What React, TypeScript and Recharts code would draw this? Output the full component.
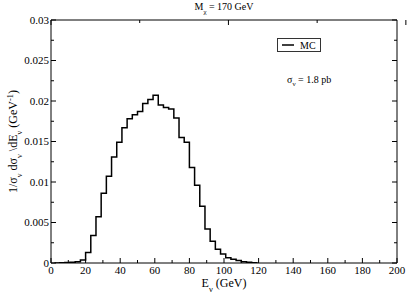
import { LineChart, Line, XAxis, YAxis, Label, Legend } from 'recharts'

// histogram bin left edges (GeV), 3 GeV wide bins
const binEdges = [
  2, 5, 8, 11, 14, 17, 20, 23, 26, 29, 32, 35, 38, 41, 44, 47, 50, 53, 56, 59,
  62, 65, 68, 71, 74, 77, 80, 83, 86, 89, 92, 95, 98, 101, 104, 107, 110, 113, 116, 119,
]
// normalised distribution per bin (last edge closes the histogram)
const binValues = [
  0, 0.00002, 0.00005, 0.0001, 0.00015, 0.00037, 0.0013, 0.0034, 0.0057, 0.0086,
  0.0107, 0.0131, 0.0149, 0.0167, 0.0178, 0.0183, 0.0187, 0.0197, 0.0202, 0.0207,
  0.0195, 0.0192, 0.019, 0.0179, 0.0155, 0.0149, 0.0118, 0.0096, 0.007, 0.0042,
  0.0027, 0.0017, 0.0011, 0.00066, 0.00045, 0.0003, 0.00015, 0.00008, 0.00003, 0,
]

const xTicks = [0, 10, 20, 30, 40, 50, 60, 70, 80, 90, 100, 110, 120, 130, 140, 150, 160, 170, 180, 190, 200]
const yTicks = [0, 0.0025, 0.005, 0.0075, 0.01, 0.0125, 0.015, 0.0175, 0.02, 0.0225, 0.025, 0.0275, 0.03]

const data = binEdges.map((e, i) => ({ e, v: binValues[i] }))

const FONT = '"Liberation Serif", "Times New Roman", serif'
const MAJOR = 5
const MINOR = 3

const isMajorX = (v: number) => Math.round(v / 10) % 2 === 0
const isMajorY = (v: number) => Math.round(v / 0.0025) % 2 === 0

function BottomTick({ x, y, payload }: any) {
  const major = isMajorX(payload.value)
  return (
    <g>
      <line x1={x} x2={x} y1={y} y2={y - (major ? MAJOR : MINOR)} stroke="#000" />
      {major && (
        <text x={x} y={y + 10.5} textAnchor="middle" fontSize={11} style={{ fontFamily: FONT }} fill="#000">
          {payload.value}
        </text>
      )}
    </g>
  )
}

function TopTick({ x, y, payload }: any) {
  const major = isMajorX(payload.value)
  return <line x1={x} x2={x} y1={y} y2={y + (major ? MAJOR : MINOR)} stroke="#000" />
}

function LeftTick({ x, y, payload }: any) {
  const major = isMajorY(payload.value)
  return (
    <g>
      <line x1={x} x2={x + (major ? MAJOR : MINOR)} y1={y} y2={y} stroke="#000" />
      {major && (
        <text x={x - 2} y={y} dy="0.35em" textAnchor="end" fontSize={11} style={{ fontFamily: FONT }} fill="#000">
          {String(payload.value)}
        </text>
      )}
    </g>
  )
}

function RightTick({ x, y, payload }: any) {
  const major = isMajorY(payload.value)
  return <line x1={x} x2={x - (major ? MAJOR : MINOR)} y1={y} y2={y} stroke="#000" />
}

const sub = { baselineShift: 'sub', fontSize: '70%' } as any

function LegendBox({ payload }: any) {
  const name = payload && payload.length ? payload[0].value : 'MC'
  return (
    <div style={{ position: 'relative', fontFamily: FONT, fontSize: 10, color: '#000' }}>
      <div
        style={{
          border: '1px solid #333',
          width: 42,
          height: 12,
          display: 'flex',
          alignItems: 'center',
          background: '#fff',
        }}
      >
        <svg width={22} height={12}>
          <line x1={4} x2={16} y1={6} y2={6} stroke="#000" strokeWidth={1.5} />
        </svg>
        <span>{name}</span>
      </div>
      <div style={{ position: 'absolute', left: 10, top: 36, whiteSpace: 'nowrap', lineHeight: '12px' }}>
        σ<sub style={{ fontSize: 7 }}>ν</sub> = 1.8 pb
      </div>
    </div>
  )
}

export default function App() {
  return (
    <div style={{ position: 'absolute', left: 0, top: 0, width: 407, height: 292, background: '#fff' }}>
      <LineChart width={407} height={292} data={data} margin={{ top: 0, right: 0, bottom: 0, left: 0 }}>
        <XAxis
          dataKey="e"
          type="number"
          domain={[0, 200]}
          ticks={xTicks}
          interval={0}
          allowDataOverflow
          height={29}
          tickSize={0}
          tickMargin={0}
          tick={(p: any) => <BottomTick {...p} />}
          axisLine={{ stroke: '#000' }}
        >
          <Label
            content={({ viewBox }: any) => {
              const cx = viewBox ? viewBox.x + viewBox.width / 2 : 224
              return (
                <text x={cx} y={287} textAnchor="middle" fontSize={12} style={{ fontFamily: FONT }} fill="#000">
                  E<tspan {...sub}>ν</tspan> (GeV)
                </text>
              )
            }}
          />
        </XAxis>
        <XAxis
          xAxisId="top"
          orientation="top"
          type="number"
          domain={[0, 200]}
          ticks={xTicks}
          interval={0}
          allowDataOverflow
          height={20}
          tickSize={0}
          tickMargin={0}
          tick={(p: any) => <TopTick {...p} />}
          axisLine={{ stroke: '#000' }}
        >
          <Label
            content={({ viewBox }: any) => {
              const cx = viewBox ? viewBox.x + viewBox.width / 2 : 224
              return (
                <text x={cx} y={9.5} textAnchor="middle" fontSize={10} style={{ fontFamily: FONT }} fill="#000">
                  M<tspan {...sub}>χ</tspan> = 170 GeV
                </text>
              )
            }}
          />
        </XAxis>
        <YAxis
          type="number"
          domain={[0, 0.03]}
          ticks={yTicks}
          interval={0}
          allowDataOverflow
          width={51}
          tickSize={0}
          tickMargin={0}
          tick={(p: any) => <LeftTick {...p} />}
          axisLine={{ stroke: '#000' }}
        >
          <Label
            content={({ viewBox }: any) => {
              const cy = viewBox ? viewBox.y + viewBox.height / 2 : 141
              const cx = 13
              return (
                <text
                  x={cx}
                  y={cy}
                  transform={`rotate(-90 ${cx} ${cy})`}
                  textAnchor="middle"
                  dy="0.35em"
                  fontSize={12}
                  style={{ fontFamily: FONT }}
                  fill="#000"
                >
                  1/σ<tspan {...sub}>ν</tspan> dσ<tspan {...sub}>ν</tspan> \dE<tspan {...sub}>ν</tspan> (GeV
                  <tspan baselineShift="super" fontSize="70%">-1</tspan>)
                </text>
              )
            }}
          />
        </YAxis>
        <YAxis
          yAxisId="right"
          orientation="right"
          type="number"
          domain={[0, 0.03]}
          ticks={yTicks}
          interval={0}
          allowDataOverflow
          width={10}
          tickSize={0}
          tickMargin={0}
          tick={(p: any) => <RightTick {...p} />}
          axisLine={{ stroke: '#000' }}
        />
        <Legend
          layout="horizontal"
          verticalAlign="middle"
          align="center"
          content={(p: any) => <LegendBox {...p} />}
          wrapperStyle={{ left: 277, top: 38, width: 'auto' }}
        />
        <Line
          name="MC"
          dataKey="v"
          type="stepAfter"
          stroke="#000"
          strokeWidth={1.5}
          dot={false}
          isAnimationActive={false}
        />
      </LineChart>
    </div>
  )
}
